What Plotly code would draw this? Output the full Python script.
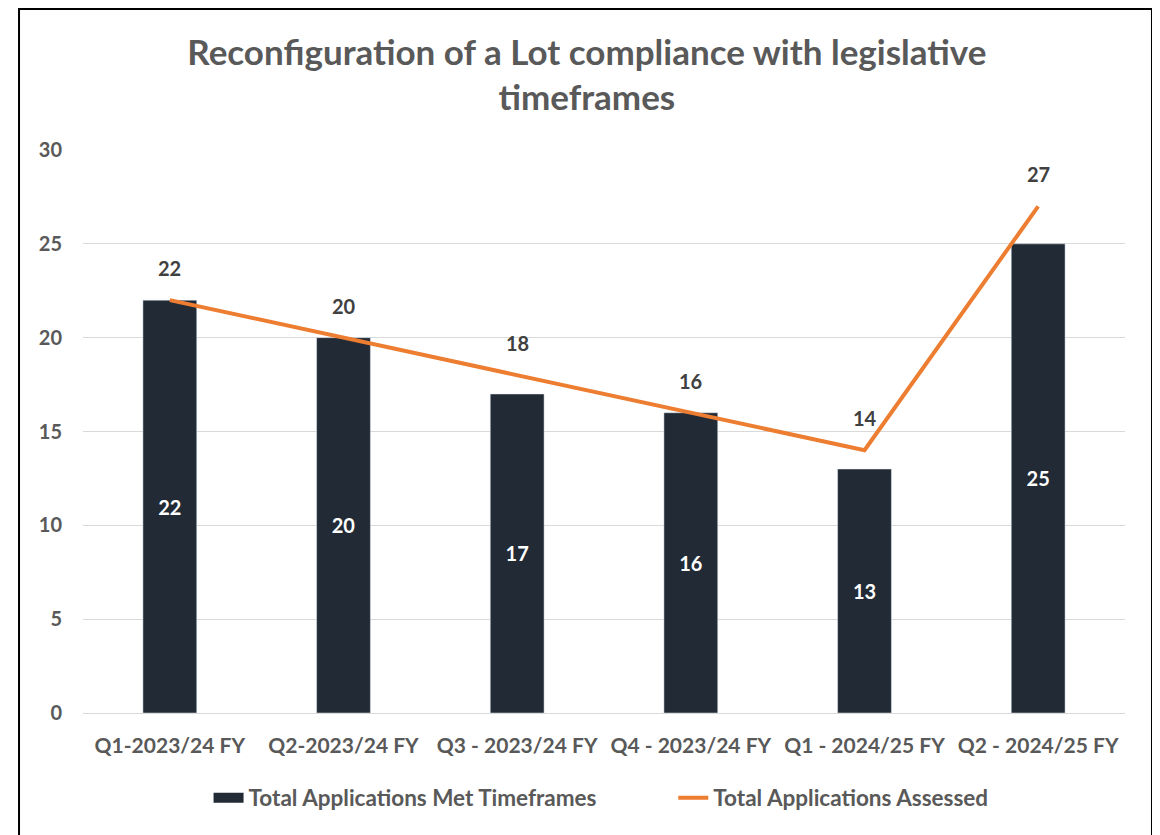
import plotly.graph_objects as go

quarters = ["Q1-2023/24 FY", "Q2-2023/24 FY", "Q3 - 2023/24 FY",
            "Q4 - 2023/24 FY", "Q1 - 2024/25 FY", "Q2 - 2024/25 FY"]
met_timeframes = [22, 20, 17, 16, 13, 25]
assessed = [22, 20, 18, 16, 14, 27]

FONT = "Lato"
GREY = "#595959"
NAVY = "#222a35"
ORANGE = "#ed7d31"

fig = go.Figure()
fig.add_trace(go.Bar(
    x=quarters, y=met_timeframes, name="Total Applications Met Timeframes",
    marker=dict(color=NAVY), showlegend=False,
    text=met_timeframes, textposition="inside", insidetextanchor="middle",
    textfont=dict(family=FONT, size=20, color="white", weight="bold"),
    width=0.31,
))
# legend-only entry so the bar key is a wide block like the original
fig.add_trace(go.Scatter(
    x=[None], y=[None], name="Total Applications Met Timeframes",
    mode="lines", line=dict(color=NAVY, width=14), legend="legend",
))
fig.add_trace(go.Scatter(
    x=quarters, y=assessed, name="Total Applications Assessed",
    mode="lines", line=dict(color=ORANGE, width=4), legend="legend2",
))

# labels above the line points
for q, v in zip(quarters, assessed):
    fig.add_annotation(x=q, y=v, text=str(v), showarrow=False, yshift=32,
                       font=dict(family=FONT, size=20, color="#404040", weight="bold"))

# outer frame
fig.add_shape(type="rect", xref="paper", yref="paper",
              x0=-0.0614, x1=1.0259, y0=-0.3, y1=1.2504,
              line=dict(color="#000000", width=2), layer="above")

legend_font = dict(family=FONT, size=22.5, color=GREY, weight="bold")

fig.update_layout(
    width=1152, height=827,
    margin=dict(l=75, r=35, t=142, b=122),
    paper_bgcolor="white", plot_bgcolor="white",
    title=dict(text="Reconfiguration of a Lot compliance with legislative<br>timeframes",
               x=0.5025, xanchor="center", y=0.9313, yanchor="middle",
               font=dict(family=FONT, size=35, color=GREY, weight="bold")),
    font=dict(family=FONT, color=GREY),
    showlegend=True,
    legend=dict(orientation="h", x=0.1205, xanchor="left", y=-0.151, yanchor="middle",
                font=legend_font),
    legend2=dict(orientation="h", x=0.5665, xanchor="left", y=-0.151, yanchor="middle",
                 font=legend_font),
    xaxis=dict(showgrid=False, showline=False, ticks="", ticklabelstandoff=18,
               tickfont=dict(family=FONT, size=21, color=GREY, weight="bold")),
    yaxis=dict(range=[0, 30], dtick=5, showgrid=True, gridcolor="#d9d9d9", gridwidth=1,
               zeroline=True, zerolinecolor="#d9d9d9", zerolinewidth=1,
               ticks="", ticklabelstandoff=20,
               tickfont=dict(family=FONT, size=20, color=GREY, weight="bold")),
)

fig.write_html("out.html")
